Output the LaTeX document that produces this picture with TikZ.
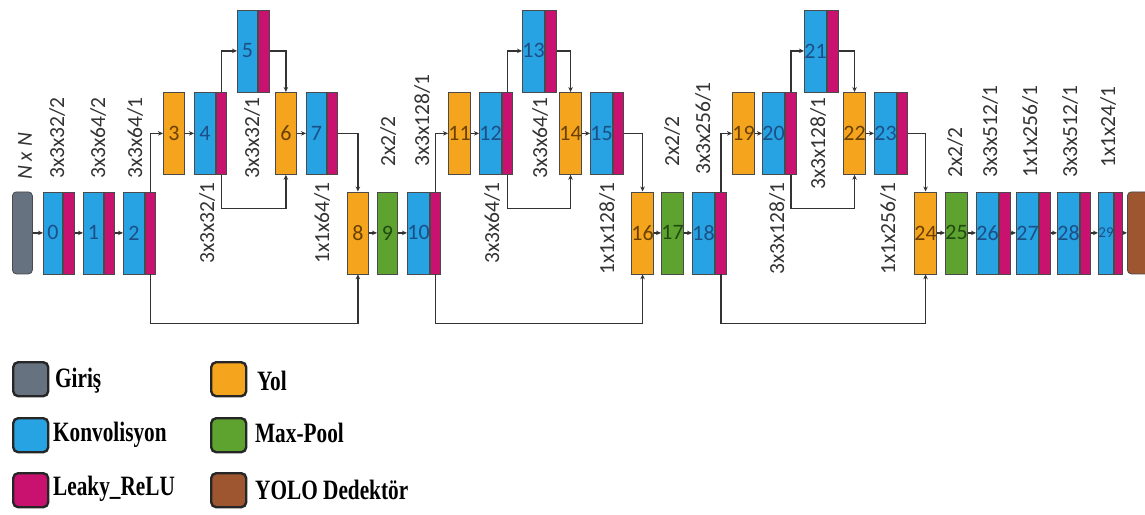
\documentclass[tikz,border=0pt]{standalone}
\usepackage{fontspec}
\setmainfont{Carlito}
\newfontfamily\legfont{Liberation Serif}
\usetikzlibrary{arrows.meta}
\definecolor{bordc}{HTML}{4A4A4A}
\definecolor{cgray}{HTML}{66727F}
\definecolor{cblue}{HTML}{27A2E2}
\definecolor{cbluet}{HTML}{1C4F86}
\definecolor{cmag}{HTML}{C9126F}
\definecolor{corange}{HTML}{F4A51D}
\definecolor{coranget}{HTML}{6B4000}
\definecolor{cgreen}{HTML}{5EA22F}
\definecolor{cgreent}{HTML}{1F4A10}
\definecolor{cbrown}{HTML}{9E5631}
\definecolor{ctext}{HTML}{333333}
\definecolor{legb}{HTML}{262626}
\newcommand\numfont{\fontsize{22}{24}\selectfont}
\newcommand\lblfont{\fontsize{21.5}{24}\selectfont}
\newcommand\legtext{\legfont\bfseries\fontsize{28}{30}\selectfont}
\tikzset{
  base/.style={draw=bordc, line width=0.8pt, minimum height=82pt, inner sep=0pt, font=\numfont},
  convb/.style={base, fill=cblue, text=cbluet},
  reluc/.style={base, fill=cmag},
  yolb/.style={base, fill=corange, text=coranget},
  poolb/.style={base, fill=cgreen, text=cgreent},
  lbl/.style={rotate=90, font=\lblfont, text=ctext, inner sep=0pt},
  arr/.style={draw=ctext, line width=1.3pt, -{Stealth[length=5pt,width=4.5pt]}},
  legbox/.style={draw=legb, line width=2.4pt, rounded corners=5pt, minimum width=35pt, minimum height=34pt, inner sep=0pt},
  legtxt/.style={font=\legtext, text=black, anchor=west, inner sep=0pt, xscale=0.76},
}
\newcommand\convblk[6]{%
  \node[convb, anchor=north west, minimum width=#4pt] (b#1) at (#2,#3) {#6};
  \node[reluc, anchor=north west, minimum width=#5pt] (r#1) at (b#1.north east) {};
}
\newcommand\yolblk[4]{%
  \node[yolb, anchor=north west, minimum width=#3pt] (o#1) at (#2,#4) {#1};
}
\newcommand\poolblk[3]{%
  \node[poolb, anchor=north west, minimum width=#3pt] (g#1) at (#2,191.5) {#1};
}
\begin{document}
\begin{tikzpicture}[x=1pt,y=-1pt]
\useasboundingbox (0,0) rectangle (1145,514);
\clip (0,0) rectangle (1145,514);
\fill[white] (0,0) rectangle (1145,514);

% input
\node[base, fill=cgray, rounded corners=4pt, anchor=north west, minimum width=20pt] (in) at (12,191.5) {};
% bottom row first segment
\convblk{0}{43}{191.5}{19}{11}{0}
\convblk{1}{83}{191.5}{20}{10}{1}
\convblk{2}{123}{191.5}{21}{10}{2}
% first residual
\yolblk{3}{163}{21}{92}
\convblk{4}{194}{92}{21}{10}{4}
\convblk{5}{237}{9.5}{20}{11}{5}
\yolblk{6}{275}{21}{92}
\convblk{7}{306}{92}{20}{10}{7}
\yolblk{8}{347}{21}{191.5}
\poolblk{9}{377}{20}
\convblk{10}{407}{191.5}{21}{10}{10}
% second residual
\yolblk{11}{448}{21}{92}
\convblk{12}{479}{92}{20}{10}{12}
\convblk{13}{522}{9.5}{20}{11}{13}
\yolblk{14}{559}{21}{92}
\convblk{15}{590}{92}{20}{10}{15}
\yolblk{16}{631}{21}{191.5}
\poolblk{17}{661}{21}
\convblk{18}{692}{191.5}{20}{11}{18}
% third residual
\yolblk{19}{732}{21}{92}
\convblk{20}{762}{92}{20}{11}{20}
\convblk{21}{804}{9.5}{20}{11}{21}
\yolblk{22}{843}{21}{92}
\convblk{23}{874}{92}{20}{10}{23}
\yolblk{24}{914}{22}{191.5}
\poolblk{25}{945}{21}
\convblk{26}{976}{191.5}{20}{11}{26}
\convblk{27}{1016}{191.5}{20}{11}{27}
\convblk{28}{1057}{191.5}{20}{10}{28}
\convblk{29}{1098}{191.5}{12}{8}{\fontsize{15}{17}\selectfont 29}
\node[base, fill=cbrown, rounded corners=4pt, anchor=north west, minimum width=40pt] (yolo) at (1127,191.5) {};

% horizontal arrows
\draw[arr] (in.east) -- (b0.west);
\draw[arr] (r0.east) -- (b1.west);
\draw[arr] (r1.east) -- (b2.west);
\draw[arr] (o3.east) -- (b4.west);
\draw[arr] (o6.east) -- (b7.west);
\draw[arr] (o8.east) -- (g9.west);
\draw[arr] (g9.east) -- (b10.west);
\draw[arr] (o11.east) -- (b12.west);
\draw[arr] (o14.east) -- (b15.west);
\draw[arr] (o16.east) -- (g17.west);
\draw[arr] (g17.east) -- (b18.west);
\draw[arr] (o19.east) -- (b20.west);
\draw[arr] (o22.east) -- (b23.west);
\draw[arr] (o24.east) -- (g25.west);
\draw[arr] (g25.east) -- (b26.west);
\draw[arr] (r26.east) -- (b27.west);
\draw[arr] (r27.east) -- (b28.west);
\draw[arr] (r28.east) -- (b29.west);
\draw[arr] (r29.east) -- (yolo.west);

% routed connectors
\draw[arr] (r2.north) |- (o3.west);
\draw[arr] (r4.north) |- (b5.west);
\draw[arr] (r5.east) -| (o6.north);
\draw[arr] (r4.south) -- ++(0,34) -| (o6.south);
\draw[arr] (r7.east) -| (o8.north);
\draw[arr] (r2.south) -- ++(0,49) -| (o8.south);

\draw[arr] (r10.north) |- (o11.west);
\draw[arr] (r12.north) |- (b13.west);
\draw[arr] (r13.east) -| (o14.north);
\draw[arr] (r12.south) -- ++(0,34) -| (o14.south);
\draw[arr] (r15.east) -| (o16.north);
\draw[arr] (r10.south) -- ++(0,49) -| (o16.south);

\draw[arr] (r18.north) |- (o19.west);
\draw[arr] (r20.north) |- (b21.west);
\draw[arr] (r21.east) -| (o22.north);
\draw[arr] (r20.south) -- ++(0,34) -| (o22.south);
\draw[arr] (r23.east) -| (o24.north);
\draw[arr] (r18.south) -- ++(0,49) -| (o24.south);

% labels above bottom row
\node[lbl, anchor=west] (l0) at (25,180) {\itshape N x N};
\node[lbl, anchor=west] (l1) at (57,179) {3x3x32/2};
\node[lbl, anchor=west] (l2) at (98,179) {3x3x64/2};
\node[lbl, anchor=west] (l3) at (135,179) {3x3x64/1};
\node[lbl, anchor=west] (l4) at (388,167) {2x2/2};
\node[lbl, anchor=west] (l5) at (422,167) {3x3x128/1};
\node[lbl, anchor=west] (l6) at (672,167) {2x2/2};
\node[lbl, anchor=west] (l7) at (703,175) {3x3x256/1};
\node[lbl, anchor=west] (l8) at (955,178) {2x2/2};
\node[lbl, anchor=west] (l9) at (990,178) {3x3x512/1};
\node[lbl, anchor=west] (l10) at (1030,178) {1x1x256/1};
\node[lbl, anchor=west] (l11) at (1070,178) {3x3x512/1};
\node[lbl, anchor=west] (l12) at (1108,168) {1x1x24/1};
% labels below middle row
\node[lbl, anchor=east] (m1) at (207,182) {3x3x32/1};
\node[lbl, anchor=east] (m2) at (322,182) {1x1x64/1};
\node[lbl, anchor=east] (m3) at (492,182) {3x3x64/1};
\node[lbl, anchor=east] (m4) at (607,182) {1x1x128/1};
\node[lbl, anchor=east] (m5) at (777,182) {3x3x128/1};
\node[lbl, anchor=east] (m6) at (888,182) {1x1x256/1};
% labels below top row
\node[lbl, anchor=east] (t1) at (252,97) {3x3x32/1};
\node[lbl, anchor=east] (t2) at (540,97) {3x3x64/1};
\node[lbl, anchor=east] (t3) at (818,97) {3x3x128/1};

% legend
\node[legbox, fill=cgray, anchor=north west] (k1) at (12,361) {};
\node[legbox, fill=cblue, anchor=north west] (k2) at (12,417) {};
\node[legbox, fill=cmag, anchor=north west] (k3) at (12,472) {};
\node[legbox, fill=corange, anchor=north west] (k4) at (210,361) {};
\node[legbox, fill=cgreen, anchor=north west] (k5) at (210,417) {};
\node[legbox, fill=cbrown, anchor=north west] (k6) at (210,472) {};
\node[legtxt] (kt1) at (55,381) {Giriş};
\node[legtxt] (kt2) at (53,435) {Konvolisyon};
\node[legtxt] (kt3) at (53,489) {Leaky\_ReLU};
\node[legtxt] (kt4) at (257,381) {Yol};
\node[legtxt] (kt5) at (255,433) {Max-Pool};
\node[legtxt] (kt6) at (255,490) {YOLO Dedektör};
\end{tikzpicture}
\end{document}
